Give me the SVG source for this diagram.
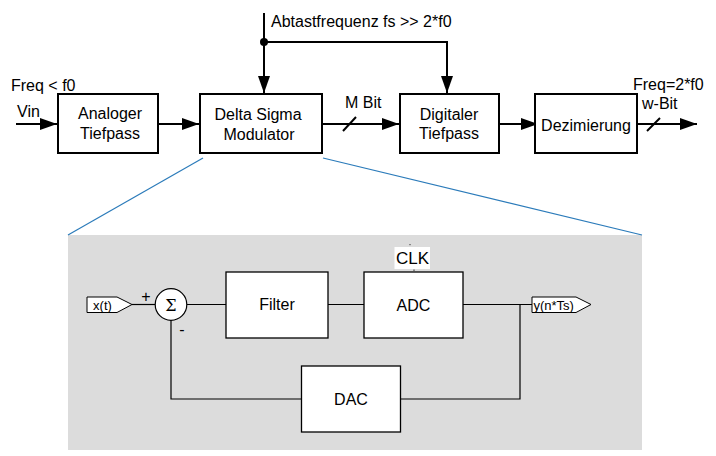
<svg xmlns="http://www.w3.org/2000/svg" width="716" height="456" viewBox="0 0 716 456">
<style>
text{font-family:"Liberation Sans",Arial,sans-serif;fill:#000}
.t16{font-size:16px}
.t13{font-size:13px}
.box{fill:#fff;stroke:#000;stroke-width:2}
.ibox{fill:#fff;stroke:#000;stroke-width:1.3}
.w{fill:none;stroke:#000;stroke-width:2}
.iw{fill:none;stroke:#000;stroke-width:1.2}
.zoom{fill:none;stroke:#2b7bba;stroke-width:1.2}
</style>
<defs>
<marker id="ah" markerUnits="userSpaceOnUse" markerWidth="18" markerHeight="13" refX="17" refY="6" orient="auto">
<path d="M0,0 L17,6 L0,12 z" fill="#000"/>
</marker>
</defs>
<rect width="716" height="456" fill="#fff"/>
<g id="zoom-area">
<rect x="68" y="235" width="574" height="215" fill="#dcdcdc"/>
<line class="zoom" x1="203" y1="158" x2="68" y2="235"/>
<line class="zoom" x1="323" y1="158" x2="642" y2="235"/>
</g>
<g id="connectors">
<line class="w" x1="16" y1="124" x2="57" y2="124" marker-end="url(#ah)"/>
<line class="w" x1="158" y1="124" x2="199" y2="124" marker-end="url(#ah)"/>
<line class="w" x1="322" y1="124" x2="399" y2="124" marker-end="url(#ah)"/>
<line class="w" x1="343" y1="131" x2="356" y2="117"/>
<line class="w" x1="499" y1="124" x2="538" y2="124" marker-end="url(#ah)"/>
<line class="w" x1="637" y1="124" x2="697" y2="124" marker-end="url(#ah)"/>
<line class="w" x1="647" y1="131" x2="660" y2="118"/>
<line class="w" x1="264" y1="13" x2="264" y2="93" marker-end="url(#ah)"/>
<polyline class="w" points="264,42 447,42 447,93" marker-end="url(#ah)"/>
<circle cx="264" cy="42" r="4" fill="#000"/>
<line class="iw" x1="132" y1="304.5" x2="155" y2="304.5"/>
<line class="iw" x1="186.5" y1="304.5" x2="226" y2="304.5"/>
<line class="iw" x1="328" y1="304.5" x2="364" y2="304.5"/>
<line class="iw" x1="463" y1="304.5" x2="532" y2="304.5"/>
<polyline class="iw" points="520,304.5 520,399 400,399"/>
<polyline class="iw" points="301.5,399 171,399 171,320.5"/>
</g>
<g id="lbl-freq"><text class="t16" x="11" y="91">Freq &lt; f0</text></g>
<g id="lbl-vin"><text class="t16" x="17" y="117">Vin</text></g>
<g id="lbl-abtast"><text class="t16" x="271" y="27">Abtastfrequenz fs &gt;&gt; 2*f0</text></g>
<g id="lbl-mbit"><text class="t16" x="345" y="108">M Bit</text></g>
<g id="lbl-freq2"><text class="t16" x="633" y="90">Freq=2*f0</text><text class="t16" x="642" y="109">w-Bit</text></g>
<g id="analoger">
<rect class="box" x="58" y="94" width="100" height="59"/>
<text class="t16" x="110" y="119" text-anchor="middle">Analoger</text>
<text class="t16" x="110" y="139" text-anchor="middle">Tiefpass</text>
</g>
<g id="dsm">
<rect class="box" x="200" y="94" width="122" height="59"/>
<text class="t16" x="258" y="120" text-anchor="middle">Delta Sigma</text>
<text class="t16" x="259" y="140" text-anchor="middle">Modulator</text>
</g>
<g id="digital">
<rect class="box" x="400" y="94" width="99" height="59"/>
<text class="t16" x="449" y="120" text-anchor="middle">Digitaler</text>
<text class="t16" x="449" y="139" text-anchor="middle">Tiefpass</text>
</g>
<g id="dezim">
<rect class="box" x="535" y="94" width="102" height="59"/>
<text class="t16" x="586" y="131" text-anchor="middle">Dezimierung</text>
</g>
<g id="xt">
<polygon points="87,297 117,297 132,304.5 117,312.5 87,312.5" fill="#fff" stroke="#000" stroke-width="1"/>
<text class="t13" x="102.5" y="309.5" text-anchor="middle">x(t)</text>
</g>
<g id="sum">
<circle cx="171" cy="304.5" r="15.8" fill="#fff" stroke="#000" stroke-width="1.2"/>
<text x="171" y="310.5" text-anchor="middle" style="font-family:'DejaVu Serif',serif;font-size:16px">Σ</text>
<text class="t16" x="146" y="302" text-anchor="middle">+</text>
<text class="t16" x="182" y="335" text-anchor="middle">-</text>
</g>
<g id="filter">
<rect class="ibox" x="226" y="272" width="102" height="66"/>
<text class="t16" x="277" y="310" text-anchor="middle">Filter</text>
</g>
<g id="adc">
<rect class="ibox" x="364" y="272" width="99" height="66"/>
<text class="t16" x="413.5" y="311" text-anchor="middle">ADC</text>
</g>
<g id="clk">
<rect x="394.5" y="247" width="35.5" height="22" fill="#fff"/>
<text x="412.5" y="263.5" text-anchor="middle" style="font-family:'Liberation Sans',Arial,sans-serif;font-size:17px">CLK</text>
<rect x="409.5" y="244" width="1" height="1.2" fill="#333"/>
<rect x="413.5" y="269.5" width="1" height="1.5" fill="#333"/>
</g>
<g id="yout">
<polygon points="532,297 576,297 591,304.5 576,312.5 532,312.5" fill="#fff" stroke="#000" stroke-width="1"/>
<text class="t13" x="533.5" y="309.5">y(n*Ts)</text>
</g>
<g id="dac">
<rect class="ibox" x="301.5" y="366" width="99" height="66"/>
<text class="t16" x="351" y="405" text-anchor="middle">DAC</text>
</g>
</svg>
